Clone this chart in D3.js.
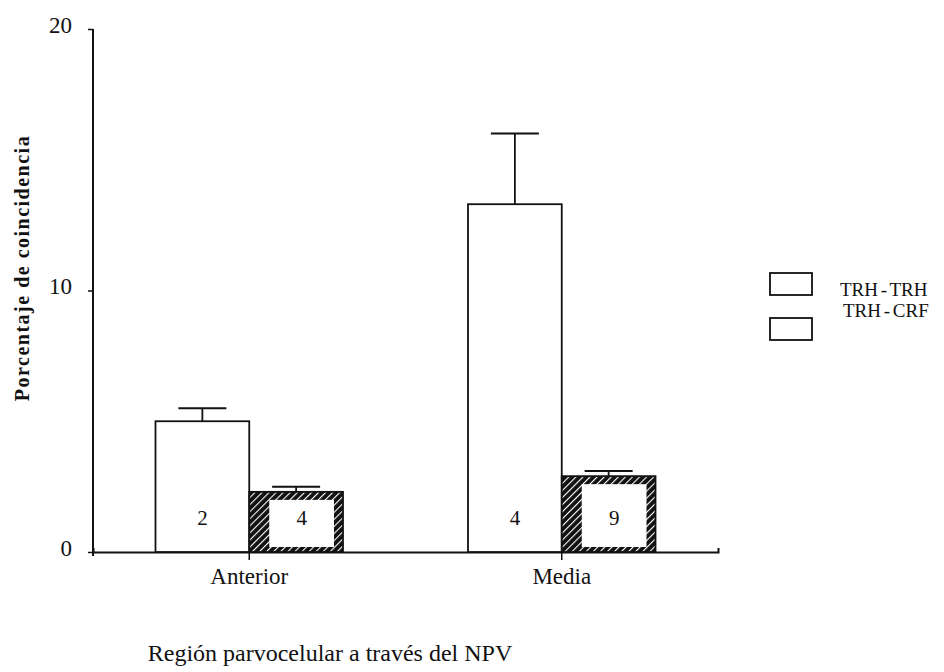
<!DOCTYPE html>
<html lang="es">
<head>
<meta charset="UTF-8">
<title>Porcentaje de coincidencia</title>
<style>
  html, body { margin: 0; padding: 0; background: #fff; }
  svg text { font-family: "Liberation Serif", "DejaVu Serif", serif; fill: #111; }
</style>
</head>
<body>
<script src="https://cdn.jsdelivr.net/npm/d3@7"></script>
<script>
// Data
const categories = ["Anterior", "Media"];
const series = ["TRH - TRH", "TRH - CRF"];
const meanTRH = [5.0, 13.3];
const semTRH = [0.5, 2.7];
const meanCRF = [2.3, 2.9];
const semCRF = [0.2, 0.2];
const nTRH = [2, 4];
const nCRF = [4, 9];
const yTicks = [0, 10, 20];

const w = 944, h = 672;

const svg = d3.select("body").append("svg")
  .attr("width", w)
  .attr("height", h);

// hatch for the TRH - CRF bars
const defs = svg.append("defs");
const pat = defs.append("pattern")
  .attr("id", "hatch")
  .attr("patternUnits", "userSpaceOnUse")
  .attr("width", 5).attr("height", 5)
  .attr("patternTransform", "rotate(45)");
pat.append("rect").attr("width", 5).attr("height", 5).attr("fill", "#111");
pat.append("rect").attr("x", 3).attr("width", 1.1).attr("height", 5).attr("fill", "#fff");

const rows = categories.map((c, i) => ({
  cat: c,
  bars: [
    { s: series[0], mean: meanTRH[i], sem: semTRH[i], n: nTRH[i] },
    { s: series[1], mean: meanCRF[i], sem: semCRF[i], n: nCRF[i] }
  ]
}));

const x = d3.scaleBand()
  .domain(categories)
  .range([93, 718])
  .paddingInner(0.4)
  .paddingOuter(0.2);

const xs = d3.scaleBand()
  .domain(series)
  .range([0, x.bandwidth()]);

const y = d3.scaleLinear()
  .domain([0, 20])
  .range([552, 29]);

// axes
const yAxis = svg.append("g")
  .attr("transform", "translate(93,0)")
  .call(d3.axisLeft(y).tickValues(yTicks).tickSize(5).tickSizeOuter(0));
yAxis.select(".domain").attr("stroke", "#111").attr("stroke-width", 2)
  .attr("d", `M0,${y(20)}V${y(0) + 4}`);
yAxis.selectAll(".tick line").attr("stroke", "#111").attr("stroke-width", 1.5);
yAxis.selectAll(".tick text")
  .attr("x", -21)
  .attr("dy", "0.15em")
  .style("font-size", "23px")
  .style("font-family", "'Liberation Serif', serif")
  .attr("fill", "#111");

const xAxis = svg.append("g")
  .attr("transform", `translate(0,${y(0)})`)
  .call(d3.axisBottom(x).tickSize(8).tickSizeOuter(-4));
xAxis.select(".domain").attr("stroke", "#111").attr("stroke-width", 2);
xAxis.selectAll(".tick line").attr("stroke", "#111").attr("stroke-width", 1.5);
xAxis.selectAll(".tick text")
  .attr("y", 16)
  .style("font-size", "23px")
  .style("font-family", "'Liberation Serif', serif")
  .attr("fill", "#111");

// bars
const groups = svg.selectAll(".grp")
  .data(rows)
  .enter().append("g")
  .attr("class", "grp")
  .attr("transform", d => `translate(${x(d.cat)},0)`);

const bar = groups.selectAll(".bar")
  .data(d => d.bars)
  .enter().append("g")
  .attr("class", "bar");

// error bars (upward only)
bar.append("line")
  .attr("x1", d => xs(d.s) + xs.bandwidth() / 2)
  .attr("x2", d => xs(d.s) + xs.bandwidth() / 2)
  .attr("y1", d => y(d.mean))
  .attr("y2", d => y(d.mean + d.sem))
  .attr("stroke", "#111").attr("stroke-width", 1.8);
bar.append("line")
  .attr("x1", d => xs(d.s) + xs.bandwidth() / 2 - 24)
  .attr("x2", d => xs(d.s) + xs.bandwidth() / 2 + 24)
  .attr("y1", d => y(d.mean + d.sem))
  .attr("y2", d => y(d.mean + d.sem))
  .attr("stroke", "#111").attr("stroke-width", 2);

bar.append("rect")
  .attr("x", d => xs(d.s))
  .attr("y", d => y(d.mean))
  .attr("width", xs.bandwidth())
  .attr("height", d => y(0) - y(d.mean))
  .attr("fill", d => d.s === series[1] ? "url(#hatch)" : "#fff")
  .attr("stroke", "#111")
  .attr("stroke-width", 1.8);

// white label window inside the hatched bars
const crf = bar.filter(d => d.s === series[1]);
crf.append("rect")
  .attr("x", d => xs(d.s) + 20)
  .attr("y", d => y(d.mean) + 8)
  .attr("width", xs.bandwidth() - 29)
  .attr("height", d => y(0) - y(d.mean) - 13)
  .attr("fill", "#fff");

bar.append("text")
  .attr("x", d => d.s === series[1] ? xs(d.s) + 20 + (xs.bandwidth() - 29) / 2 : xs(d.s) + xs.bandwidth() / 2)
  .attr("y", y(0) - 27)
  .attr("text-anchor", "middle")
  .style("font-size", "21px")
  .text(d => d.n);

// axis titles
svg.append("text")
  .attr("transform", `translate(29,268)rotate(-90)`)
  .attr("text-anchor", "middle")
  .style("font-size", "20px")
  .style("font-weight", "bold")
  .style("letter-spacing", "1.5px")
  .text("Porcentaje de coincidencia");

svg.append("text")
  .attr("x", 330)
  .attr("y", 661)
  .attr("text-anchor", "middle")
  .style("font-size", "24px")
  .text("Región parvocelular a través del NPV");

// legend
const legend = svg.append("g").attr("transform", "translate(770,273)");
legend.selectAll("rect")
  .data(series)
  .enter().append("rect")
  .attr("y", (d, i) => i * 45)
  .attr("width", 42).attr("height", 22)
  .attr("fill", "#fff").attr("stroke", "#111").attr("stroke-width", 1.8);
legend.selectAll("text")
  .data(series)
  .enter().append("text")
  .attr("x", (d, i) => 70 + i * 3)
  .attr("y", (d, i) => 23 + i * 21)
  .style("font-size", "19px")
  .style("word-spacing", "-2px")
  .text(d => d);
</script>
</body>
</html>
